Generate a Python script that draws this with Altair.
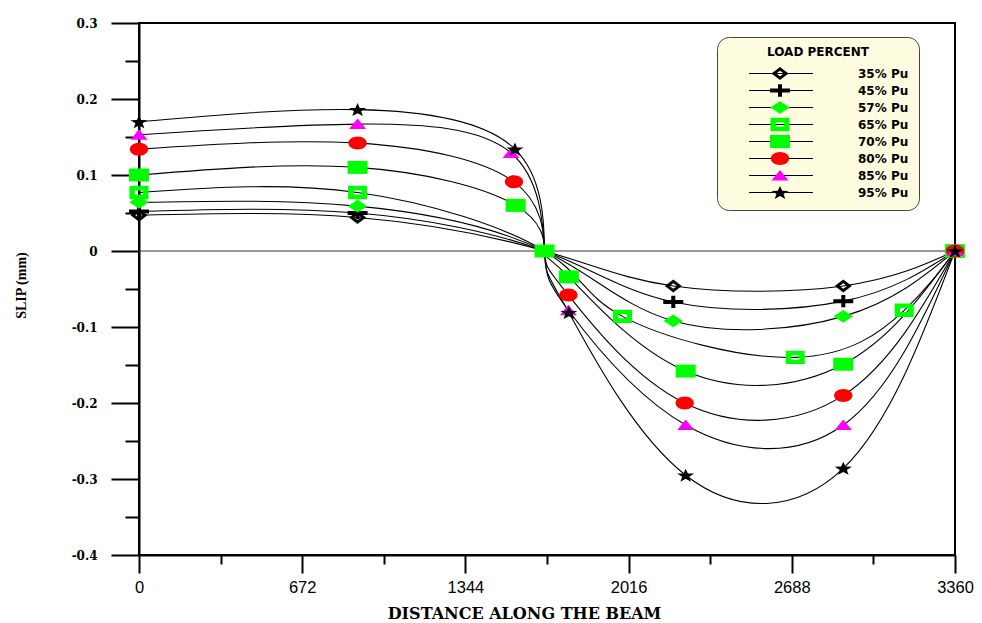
import math
import altair as alt
import pandas as pd

# ---------------- data ----------------
SERIES = ["35% Pu", "45% Pu", "57% Pu", "65% Pu", "70% Pu", "80% Pu", "85% Pu", "95% Pu"]

X_35 = [0, 900, 1670, 2200, 2900, 3360]
Y_35 = [0.047, 0.044, 0.0, -0.046, -0.046, 0.0]
X_45 = [0, 900, 1670, 2200, 2900, 3360]
Y_45 = [0.052, 0.050, 0.0, -0.067, -0.066, 0.0]
X_57 = [0, 900, 1670, 2200, 2900, 3360]
Y_57 = [0.064, 0.059, 0.0, -0.092, -0.086, 0.0]
X_65 = [0, 900, 1670, 1991, 2702, 3151, 3360]
Y_65 = [0.077, 0.077, 0.0, -0.086, -0.140, -0.078, 0.0]
X_70 = [0, 900, 1551, 1670, 1770, 2251, 2900, 3360]
Y_70 = [0.100, 0.110, 0.060, 0.0, -0.034, -0.158, -0.149, 0.0]
X_80 = [0, 900, 1544, 1670, 1768, 2247, 2900, 3360]
Y_80 = [0.134, 0.142, 0.091, 0.0, -0.058, -0.200, -0.190, 0.0]
X_85 = [0, 900, 1532, 1670, 1768, 2251, 2900, 3360]
Y_85 = [0.153, 0.167, 0.129, 0.0, -0.078, -0.229, -0.229, 0.0]
X_95 = [0, 900, 1548, 1670, 1770, 2251, 2900, 3360]
Y_95 = [0.170, 0.186, 0.134, 0.0, -0.081, -0.295, -0.286, 0.0]

SERIES_X = [X_35, X_45, X_57, X_65, X_70, X_80, X_85, X_95]
SERIES_Y = [Y_35, Y_45, Y_57, Y_65, Y_70, Y_80, Y_85, Y_95]

# mid-span zero point: only the 70% series shows a marker there
MIDSPAN = 1670
MIDSPAN_MARKER = ["70% Pu"]

X_TICKS = [0, 672, 1344, 2016, 2688, 3360]
X_MINOR = [336, 1008, 1680, 2352, 3024]
Y_TICKS = [-0.4, -0.3, -0.2, -0.1, 0, 0.1, 0.2, 0.3]
Y_MINOR = [-0.35, -0.25, -0.15, -0.05, 0.05, 0.15, 0.25]

COLORS = ["#000000", "#000000", "#00FF00", "#00FF00", "#00FF00", "#FF0000", "#FF00FF", "#000000"]


# ---------------- marker shapes (unit paths, scaled by size) ----------------
def star_path(R=0.9, r=0.37, sy=0.8):
    pts = []
    for k in range(10):
        ang = math.radians(-90 + 36 * k)
        rad = R if k % 2 == 0 else r
        pts.append((rad * math.cos(ang), rad * math.sin(ang) * sy + 0.09 * R * sy))
    return "M" + "L".join(f"{px:.3f},{py:.3f}" for px, py in pts) + "Z"


SHAPES = [
    "M-0.85,0L0,-0.65L0.85,0L0,0.65Z M-0.38,0L0,0.27L0.38,0L0,-0.27Z",
    "M-1,-0.2H-0.2V-0.62H0.2V-0.2H1V0.2H0.2V0.62H-0.2V0.2H-1Z",
    "M-0.97,0L0,-0.63L0.97,0L0,0.63Z",
    "M-0.95,-0.67H0.95V0.67H-0.95Z M-0.42,-0.2V0.2H0.42V-0.2Z",
    "M-1,-0.65H1V0.65H-1Z",
    "M-0.92,0A0.92,0.65 0 1,0 0.92,0A0.92,0.65 0 1,0 -0.92,0Z",
    "M0,-0.55L0.85,0.5L-0.85,0.5Z",
    star_path(),
]

rows = []
for name, xs, ys in zip(SERIES, SERIES_X, SERIES_Y):
    for xv, yv in zip(xs, ys):
        rows.append({
            "x": xv, "y": yv, "series": name, "load": name,
            "marker": (xv != MIDSPAN) or (name in MIDSPAN_MARKER),
        })
df = pd.DataFrame(rows)

xscale = alt.Scale(domain=[0, 3360], nice=False, zero=False)
yscale = alt.Scale(domain=[-0.4, 0.3], nice=False, zero=False)

major_x = alt.Axis(
    orient="bottom", values=X_TICKS, format="d", grid=False,
    tickSize=18, tickWidth=2, tickColor="black",
    domainColor="black", domainWidth=2,
    labelFont="Liberation Sans", labelFontSize=16.5, labelColor="black",
    labelPadding=6, labelFlush=False, labelOverlap=False,
    title="DISTANCE ALONG THE BEAM", titleFont="DejaVu Serif", titleFontSize=16,
    titleFontWeight="bold", titleColor="black", titleX=385, titleY=63,
    titleAlign="center", titleBaseline="alphabetic",
)
minor_x = alt.Axis(
    orient="bottom", values=X_MINOR, grid=False, labels=False, domain=False,
    tickSize=9, tickWidth=2, tickColor="black", title=None,
)
major_y = alt.Axis(
    orient="left", values=Y_TICKS, grid=False,
    tickSize=28, tickWidth=2, tickColor="black",
    domainColor="black", domainWidth=2,
    labelFont="DejaVu Serif", labelFontSize=12, labelFontWeight="bold", labelColor="black",
    labelPadding=14, labelFlush=False, labelOverlap=False,
    labelExpr="datum.value == 0 ? '0' : replace(format(datum.value, '.1f'), '\u2212', '-')",
    title="SLIP (mm)", titleFont="Liberation Serif", titleFontSize=14, titleFontWeight="bold",
    titleColor="black", titleAngle=270, titleX=-118, titleY=262,
    titleAlign="center", titleBaseline="middle",
)
minor_y = alt.Axis(
    orient="left", values=Y_MINOR, grid=False, labels=False, domain=False,
    tickSize=14, tickWidth=2, tickColor="black", title=None,
)

legend_lines = alt.Legend(
    orient="none", legendX=578, legendY=14, direction="vertical", columns=1,
    title="LOAD PERCENT", titleFont="DejaVu Sans", titleFontSize=12, titleFontWeight="bold",
    titleColor="black", titleAnchor="middle", titlePadding=7,
    fillColor="#FFFDE0", strokeColor="#444444", cornerRadius=12, padding=10,
    symbolType="stroke", symbolSize=4096, symbolStrokeWidth=1.2, symbolOffset=21,
    labelOffset=44, labelFont="DejaVu Sans", labelFontSize=12, labelFontWeight="bold",
    labelColor="black", labelExpr="datum.label + '" + "\u00a0" * 9 + "'",
    clipHeight=15, rowPadding=2,
)
legend_marks = alt.Legend(
    orient="none", legendX=631, legendY=43, direction="vertical", columns=1,
    title=None, padding=0, symbolSize=400, symbolOffset=0, symbolStrokeWidth=0,
    labelExpr="''", clipHeight=15, rowPadding=2, zindex=1,
)

zero_line = alt.Chart(pd.DataFrame({"y": [0.0]})).mark_rule(color="#333333", strokeWidth=1).encode(
    y=alt.Y("y:Q", scale=yscale, axis=None)
)

lines = alt.Chart(df).mark_line(interpolate="natural", strokeWidth=1.1).encode(
    x=alt.X("x:Q", scale=xscale, axis=major_x),
    y=alt.Y("y:Q", scale=yscale, axis=major_y),
    stroke=alt.Stroke("series:N", scale=alt.Scale(range=["#000000"] * len(SERIES)), legend=legend_lines),
)

points = alt.Chart(df).transform_filter("datum.marker").mark_point(
    filled=True, size=400, opacity=1, strokeWidth=0
).encode(
    x=alt.X("x:Q", scale=xscale, axis=minor_x),
    y=alt.Y("y:Q", scale=yscale, axis=minor_y),
    shape=alt.Shape("load:N", scale=alt.Scale(domain=SERIES, range=SHAPES), legend=legend_marks),
    fill=alt.Fill("load:N", scale=alt.Scale(domain=SERIES, range=COLORS), legend=legend_marks),
)

chart = alt.layer(zero_line, lines, points).resolve_axis(
    x="independent", y="independent"
).properties(
    width=816, height=532,
    autosize=alt.AutoSizeParams(type="none"),
    padding={"left": 131, "top": 15, "right": 19, "bottom": 68},
    background="white",
).configure_view(stroke="black", strokeWidth=2)

chart.save("out.html", embed_options={"renderer": "svg", "actions": False})
